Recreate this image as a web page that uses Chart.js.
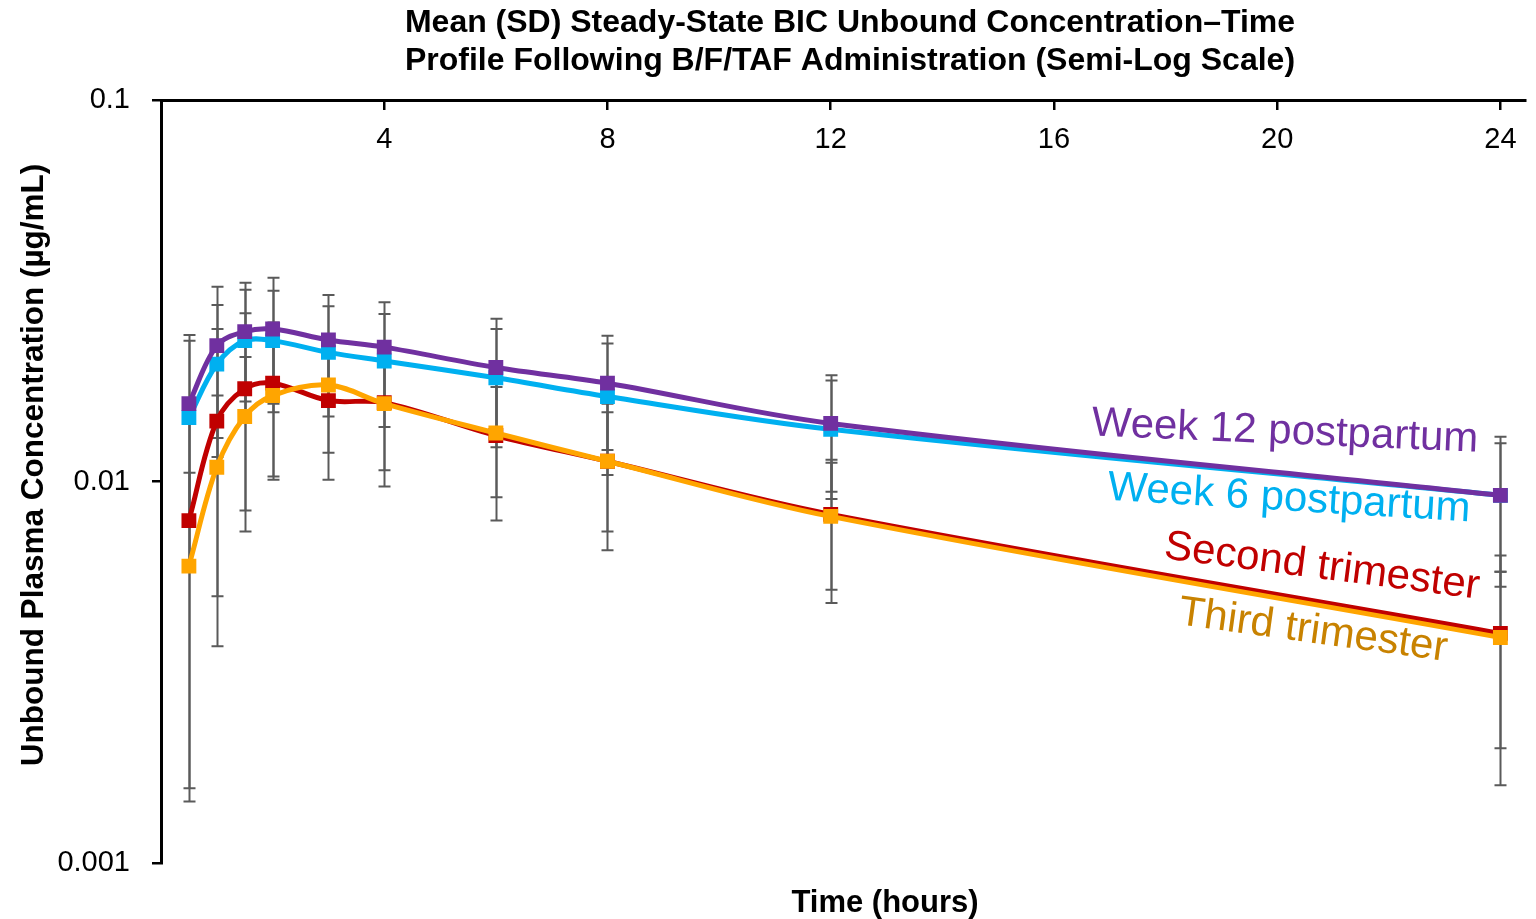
<!DOCTYPE html>
<html><head><meta charset="utf-8">
<script src="https://cdn.jsdelivr.net/npm/chart.js@4.4.1/dist/chart.umd.min.js"></script>
<style>html,body{margin:0;padding:0;background:#fff;overflow:hidden}canvas{display:block}</style>
</head><body>
<canvas id="c" width="1536" height="919"></canvas>
<script>
// ---------- data ----------
const timeHours = [0.5, 1, 1.5, 2, 3, 4, 6, 8, 12, 24];

const week12Mean = [0.0160, 0.0227, 0.0247, 0.0251, 0.0235, 0.0225, 0.0199, 0.0181, 0.0142, 0.0092];
const week12SD   = [0.0082, 0.0097, 0.0085, 0.0091, 0.0073, 0.0070, 0.0068, 0.0060, 0.0048, 0.0039];

const week6Mean  = [0.0147, 0.0203, 0.0234, 0.0234, 0.0218, 0.0207, 0.0187, 0.0167, 0.0137, 0.0092];
const week6SD    = [0.0087, 0.0087, 0.0084, 0.0082, 0.0070, 0.0068, 0.0064, 0.0063, 0.0047, 0.0034];

const secondMean = [0.0079, 0.0144, 0.0175, 0.0181, 0.0163, 0.0161, 0.0132, 0.0113, 0.0082, 0.0040];
const secondSD   = [0.00633, 0.0107, 0.0101, 0.0080, 0.0062, 0.0054, 0.0053, 0.0047, 0.0030, 0.0024];

const thirdMean  = [0.0060, 0.0109, 0.0148, 0.0168, 0.0179, 0.0160, 0.0134, 0.0113, 0.0081, 0.0039];
const thirdSD    = [0.00455, 0.0059, 0.0064, 0.0065, 0.0060, 0.0063, 0.0043, 0.0039, 0.0033, 0.0019];

const seriesNames = ['Week 12 postpartum', 'Week 6 postpartum', 'Second trimester', 'Third trimester'];

const xTickValues = [4, 8, 12, 16, 20, 24];
const yTickValues = [0.001, 0.01, 0.1];
const yTickLabels = ['0.001', '0.01', '0.1'];

const titleLines = ['Mean (SD) Steady-State BIC Unbound Concentration\u2013Time',
                    'Profile Following B/F/TAF Administration (Semi-Log Scale)'];
const xTitle = 'Time (hours)';
const yTitle = 'Unbound Plasma Concentration (\u00B5g/mL)';

// ---------- styling ----------
const FONT = '"Liberation Sans", Arial, sans-serif';
const lineColors  = ['#7030A0', '#00B0F0', '#C00000', '#FFA500'];
const labelColors = ['#7030A0', '#00B0F0', '#C00000', '#C88200'];
const means = [week12Mean, week6Mean, secondMean, thirdMean];
const sds   = [week12SD, week6SD, secondSD, thirdSD];
// series label placement (centre x, centre y, angle in degrees)
const labelPlace = [[1285, 432, 2.4], [1289, 499, 3.4], [1322, 567, 7.3], [1313, 631, 7.8]];

function pts(arr) { return timeHours.map((t, i) => ({x: t, y: arr[i]})); }

const datasets = seriesNames.map((name, i) => ({
  label: name,
  data: pts(means[i]),
  borderColor: lineColors[i],
  backgroundColor: lineColors[i],
  borderWidth: 5,
  pointStyle: 'rect',
  pointRadius: 10.5,
  pointBorderWidth: 0,
  pointBackgroundColor: lineColors[i],
  tension: 0.35,
  order: i === 2 ? 4 : (i === 3 ? 3 : i + 1)
}));

const errorBarPlugin = {
  id: 'errorBars',
  beforeDatasetsDraw(chart) {
    const {ctx, chartArea} = chart;
    const xs = chart.scales.x, ys = chart.scales.y;
    ctx.save();
    ctx.beginPath();
    ctx.rect(chartArea.left, chartArea.top, chartArea.right - chartArea.left, chartArea.bottom - chartArea.top);
    ctx.clip();
    ctx.strokeStyle = '#5A5A5A';
    ctx.lineWidth = 2;
    const cap = 6;
    means.forEach((m, i) => {
      m.forEach((v, j) => {
        const sd = sds[i][j];
        const px = Math.round(xs.getPixelForValue(timeHours[j])) + 0.5;
        const hi = ys.getPixelForValue(v + sd);
        const lo = v - sd > 0 ? ys.getPixelForValue(v - sd) : chartArea.bottom;
        ctx.beginPath();
        ctx.moveTo(px, hi); ctx.lineTo(px, lo);
        ctx.moveTo(px - cap, hi); ctx.lineTo(px + cap, hi);
        if (v - sd > 0) { ctx.moveTo(px - cap, lo); ctx.lineTo(px + cap, lo); }
        ctx.stroke();
      });
    });
    ctx.restore();
  }
};

const textPlugin = {
  id: 'texts',
  afterDraw(chart) {
    const {ctx} = chart;
    ctx.save();
    ctx.fillStyle = '#000';
    ctx.textAlign = 'center';
    ctx.textBaseline = 'middle';
    ctx.font = 'bold 32px ' + FONT;
    ctx.fillText(titleLines[0], 850, 23);
    ctx.fillText(titleLines[1], 850, 61);
    ctx.font = 'bold 31px ' + FONT;
    ctx.fillText(xTitle, 885, 903);
    ctx.save();
    ctx.translate(34, 465);
    ctx.rotate(-Math.PI / 2);
    ctx.font = 'bold 31.5px ' + FONT;
    ctx.fillText(yTitle, 0, 0);
    ctx.restore();
    seriesNames.forEach((name, i) => {
      const [cx, cy, ang] = labelPlace[i];
      ctx.save();
      ctx.translate(cx, cy);
      ctx.rotate(ang * Math.PI / 180);
      ctx.font = '42px ' + FONT;
      ctx.fillStyle = labelColors[i];
      ctx.fillText(name, 0, 0);
      ctx.restore();
    });
    ctx.restore();
  }
};

new Chart(document.getElementById('c'), {
  type: 'line',
  data: {datasets},
  options: {
    responsive: false,
    animation: false,
    devicePixelRatio: 1,
    events: [],
    layout: {padding: {top: 100, bottom: 56, left: 0, right: 0}},
    plugins: {legend: {display: false}, title: {display: false}, tooltip: {enabled: false}},
    scales: {
      x: {
        type: 'linear',
        position: {y: 0.1},
        min: 0,
        max: 24.45,
        afterBuildTicks(scale) { scale.ticks = xTickValues.map(v => ({value: v})); },
        ticks: {
          color: '#000',
          font: {family: FONT, size: 29},
          padding: 15,
          maxRotation: 0,
          autoSkip: false,
          callback: (v) => String(v)
        },
        grid: {display: true, drawOnChartArea: false, drawTicks: true, tickLength: 8, color: '#000', lineWidth: 2.5},
        border: {display: true, color: '#000', width: 3}
      },
      y: {
        type: 'logarithmic',
        position: 'left',
        min: 0.001,
        max: 0.1,
        afterBuildTicks(scale) { scale.ticks = yTickValues.map(v => ({value: v})); },
        afterFit(scale) { scale.width = 161; },
        ticks: {
          color: '#000',
          font: {family: FONT, size: 29},
          padding: 22,
          autoSkip: false,
          callback: (v) => { const k = yTickValues.indexOf(v); return k >= 0 ? yTickLabels[k] : ''; }
        },
        grid: {display: true, drawOnChartArea: false, drawTicks: true, tickLength: 9, color: '#000', lineWidth: 2.5},
        border: {display: true, color: '#000', width: 3}
      }
    }
  },
  plugins: [errorBarPlugin, textPlugin]
});
</script>
</body></html>
